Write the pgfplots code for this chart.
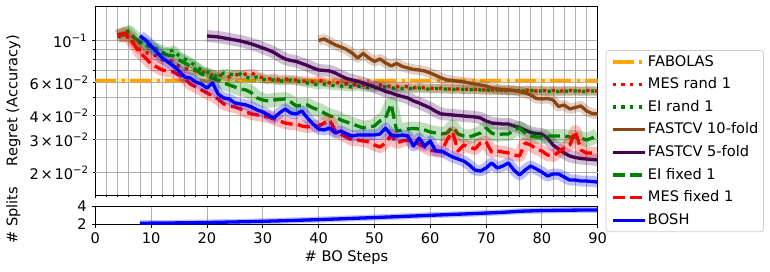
\documentclass[border=0pt]{standalone}
\usepackage{fontspec}
\setmainfont{DejaVu Sans}
\usepackage{pgfplots}
\pgfplotsset{compat=1.18}
\usepackage{pgfplotstable}

\definecolor{cOrange}{HTML}{FFA500}
\definecolor{cRed}{HTML}{FF0000}
\definecolor{cGreen}{HTML}{008000}
\definecolor{cBrown}{HTML}{8B4513}
\definecolor{cPurple}{HTML}{440154}
\definecolor{cBlue}{HTML}{0000FF}
\definecolor{gridgray}{HTML}{B0B0B0}
\definecolor{legframe}{HTML}{CCCCCC}

\newcommand{\fs}{\fontsize{14.6bp}{17.5bp}\selectfont}
\newcommand{\supr}[1]{\raisebox{0.42em}{\fontsize{10.2bp}{12bp}\selectfont #1}}
\newcommand{\sci}[2]{#1\kern0.12em×\kern0.12em10\supr{#2}}

\pgfplotstableread{
x y
0 0.0615
90 0.0615
}\fabolas

\pgfplotstableread{
x y
4 .10591
5 .10336
6 .10463
7 .09606
8 .08928
9 .08713
10 .08400
11 .08298
12 .07903
13 .07903
14 .07713
15 .07346
16 .07169
17 .06996
18 .06911
19 .06828
20 .06745
21 .06582
22 .06582
23 .06503
24 .06424
25 .06663
26 .06503
27 .06663
28 .06745
29 .06503
30 .06346
31 .06269
32 .06346
33 .06193
34 .06269
35 .06193
36 .06193
37 .06118
38 .06118
39 .06044
40 .06193
41 .06044
42 .05971
43 .06044
44 .05898
45 .05898
46 .05827
47 .05898
48 .05827
49 .05827
50 .05756
51 .05827
52 .05756
53 .05756
54 .05687
55 .05756
56 .05687
57 .05618
58 .05687
59 .05618
60 .05618
61 .05550
62 .05618
63 .05550
64 .05550
65 .05550
66 .05516
67 .05550
68 .05516
69 .05482
70 .05482
71 .05482
72 .05482
73 .05449
74 .05482
75 .05449
76 .05416
77 .05482
78 .05449
79 .05416
80 .05449
81 .05416
82 .05449
83 .05416
84 .05416
85 .05449
86 .05416
87 .05416
88 .05449
89 .05416
90 .05416
}\mesrand

\pgfplotstableread{
x y
4 .10721
5 .10986
6 .11257
7 .10336
8 .09724
9 .09489
10 .09261
11 .09038
12 .08607
13 .08713
14 .08928
15 .08298
16 .08000
17 .07713
18 .07346
19 .06996
20 .06828
21 .06663
22 .06424
23 .06745
24 .06663
25 .06582
26 .06663
27 .06424
28 .06269
29 .06424
30 .06269
31 .06193
32 .06193
33 .06118
34 .06118
35 .06193
36 .06118
37 .06044
38 .05971
39 .05898
40 .05827
41 .05898
42 .05827
43 .05756
44 .05756
45 .05721
46 .05687
47 .05756
48 .05687
49 .05652
50 .05618
51 .05687
52 .05687
53 .05618
54 .05618
55 .05584
56 .05618
57 .05550
58 .05618
59 .05550
60 .05550
61 .05584
62 .05550
63 .05550
64 .05516
65 .05550
66 .05516
67 .05482
68 .05550
69 .05482
70 .05482
71 .05449
72 .05482
73 .05449
74 .05416
75 .05449
76 .05416
77 .05416
78 .05449
79 .05416
80 .05416
81 .05383
82 .05416
83 .05383
84 .05416
85 .05383
86 .05416
87 .05383
88 .05383
89 .05416
90 .05383
}\eirand

\pgfplotstableread{
x y
40 .10025
41 .10211
42 .09843
43 .09489
44 .09261
45 .08983
46 .08607
47 .08098
48 .08555
49 .08098
50 .07760
51 .08000
52 .07619
53 .07346
54 .07573
55 .07301
56 .07169
57 .07039
58 .06996
59 .06911
60 .06745
61 .06542
62 .06346
63 .06193
64 .06155
65 .06081
66 .06044
67 .05971
68 .05898
69 .05827
70 .05756
71 .05618
72 .05550
73 .05516
74 .05482
75 .05449
76 .05383
77 .05286
78 .05158
79 .04943
80 .04913
81 .04943
82 .04853
83 .04483
84 .04566
85 .04349
86 .04429
87 .04511
88 .04244
89 .04117
90 .04092
}\fastten

\pgfplotstableread{
x y
20 .10591
21 .10527
22 .10463
23 .10336
24 .10211
25 .10086
26 .09964
27 .09783
28 .09606
29 .09374
30 .09148
31 .08928
32 .08660
33 .08298
34 .08000
35 .07855
36 .07760
37 .07573
38 .07391
39 .07169
40 .06996
41 .06953
42 .06911
43 .06745
44 .06503
45 .06307
46 .06193
47 .06081
48 .05971
49 .05827
50 .05687
51 .05550
52 .05383
53 .05286
54 .05158
55 .05065
56 .04973
57 .04794
58 .04679
59 .04538
60 .04402
61 .04218
62 .04092
63 .04067
64 .04042
65 .04017
66 .03993
67 .03969
68 .03945
69 .03897
70 .03756
71 .03666
72 .03643
73 .03621
74 .03621
75 .03534
76 .03470
77 .03366
78 .03265
79 .03225
80 .03206
81 .03053
82 .02803
83 .02670
84 .02543
85 .02451
86 .02407
87 .02377
88 .02363
89 .02349
90 .02335
}\fastfive

\pgfplotstableread{
x y
4 .10591
5 .10721
6 .11121
7 .10336
8 .09843
9 .09489
10 .09261
11 .08928
12 .08607
13 .08400
14 .08298
15 .07903
16 .07619
17 .07346
18 .06996
19 .06663
20 .06503
21 .06346
22 .06193
23 .05971
24 .05827
25 .05687
26 .05550
27 .05482
28 .05286
29 .04973
30 .04853
31 .04794
32 .04853
33 .04883
34 .04913
35 .04736
36 .04511
37 .04566
38 .04566
39 .04402
40 .04296
41 .04142
42 .03993
43 .03945
44 .03802
45 .03711
46 .03621
47 .03534
48 .03449
49 .03491
50 .03534
51 .03756
52 .03897
53 .04622
54 .03325
55 .03366
56 .03407
57 .03428
58 .03407
59 .03366
60 .03285
61 .03245
62 .03206
63 .03245
64 .03491
65 .03206
66 .03128
67 .03091
68 .03167
69 .03245
70 .03449
71 .03245
72 .03167
73 .03206
74 .03206
75 .03366
76 .03449
77 .03245
78 .03128
79 .03091
80 .03091
81 .03128
82 .03128
83 .03128
84 .03128
85 .03091
86 .03091
87 .03053
88 .02979
89 .03053
90 .03167
}\eifixed

\pgfplotstableread{
x y
4 .10591
5 .10986
6 .10463
7 .09489
8 .08607
9 .08098
10 .07527
11 .07257
12 .06996
13 .06911
14 .06828
15 .06582
16 .06346
17 .05898
18 .05687
19 .05482
20 .05286
21 .05096
22 .04913
23 .04622
24 .04511
25 .04456
26 .04349
27 .04193
28 .04092
29 .04042
30 .03993
31 .03945
32 .03850
33 .03756
34 .03666
35 .03621
36 .03621
37 .03534
38 .03491
39 .03534
40 .03534
41 .03666
42 .03802
43 .03325
44 .03206
45 .03091
46 .02979
47 .02979
48 .02943
49 .02908
50 .02803
51 .02736
52 .02872
53 .03167
54 .02872
55 .02943
56 .02979
57 .02908
58 .02838
59 .02736
60 .02637
61 .02605
62 .02574
63 .02979
64 .03285
65 .02605
66 .02803
67 .02736
68 .02670
69 .02872
70 .02908
71 .02574
72 .02605
73 .02574
74 .02543
75 .02481
76 .02451
77 .02872
78 .02803
79 .02670
80 .02605
81 .02481
82 .02451
83 .02574
84 .02703
85 .02803
86 .03325
87 .02637
88 .02543
89 .02543
90 .02543
}\mesfixed

\pgfplotstableread{
x y
8 .10591
9 .10086
10 .09374
11 .08713
12 .08098
13 .07713
14 .07346
15 .06911
16 .06424
17 .06346
18 .06044
19 .05898
20 .05618
21 .05971
22 .05222
23 .04973
24 .04913
25 .04679
26 .04622
27 .04566
28 .04456
29 .04296
30 .04193
31 .04042
32 .03897
33 .04142
34 .04349
35 .04142
36 .04092
37 .04244
38 .03897
39 .03621
40 .03407
41 .03366
42 .03449
43 .03245
44 .03325
45 .03206
46 .03128
47 .03167
48 .03167
49 .03167
50 .03167
51 .03206
52 .03449
53 .03167
54 .03128
55 .03167
56 .03128
57 .02769
58 .03053
59 .02769
60 .02943
61 .02605
62 .02605
63 .02512
64 .02422
65 .02363
66 .02306
67 .02197
68 .02067
69 .02042
70 .02118
71 .02251
72 .02118
73 .02170
74 .02251
75 .02067
76 .01945
77 .02067
78 .02170
79 .02092
80 .02017
81 .01921
82 .01968
83 .01968
84 .01898
85 .01829
86 .01829
87 .01807
88 .01807
89 .01796
90 .01785
}\bosh

\pgfplotstableread{
x y
8 2.12
10 2.13
15 2.16
20 2.20
25 2.26
30 2.33
35 2.42
40 2.52
45 2.63
50 2.75
55 2.87
60 3.00
65 3.12
70 3.25
73 3.33
76 3.45
80 3.53
85 3.57
90 3.60
}\splits

\pgfplotsset{
  ln/.style={line width=3.3bp, line cap=butt, line join=round},
  band/.style={line width=#1, line cap=butt, line join=round, draw opacity=0.25, forget plot},
  mdashed/.style={dash pattern=on 12.2bp off 5.3bp},
  mdotted/.style={dash pattern=on 3.3bp off 5.4bp},
  mdashdot/.style={dash pattern=on 21.1bp off 5.3bp on 3.3bp off 5.3bp},
  common/.style={
    scale only axis,
    width=502.4bp,
    xmin=0, xmax=90,
    tick align=outside, tick pos=left,
    major tick length=3.5bp, minor tick length=2bp,
    axis line style={line width=0.8bp},
    every tick/.style={black, line width=0.8bp},
    grid style={draw=gridgray, line width=0.8bp},
    minor grid style={draw=gridgray, line width=0.8bp},
    tick label style={font=\fs},
    label style={font=\fs},
    /pgf/number format/assume math mode=true,
    ylabel style={at={(axis description cs:-0.1629,0.5)}, anchor=center},
  },
}

\begin{document}
\fs
\begin{tikzpicture}
\useasboundingbox (0,0) rectangle (770bp,272bp);
\begin{axis}[
  common,
  at={(95.3bp,77bp)}, anchor=south west,
  height=188.7bp,
  ymode=log, ymin=0.01524, ymax=0.152,
  xtick={0,10,...,90}, xticklabels={}, minor x tick num=4,
  ytick={0.1}, yticklabels={10\supr{−1}},
  extra y ticks={0.02,0.03,0.04,0.06},
  extra y tick labels={\sci{2}{−2},\sci{3}{−2},\sci{4}{−2},\sci{6}{−2}},
  extra y tick style={grid=major, major tick length=2bp},
  minor ytick={0.05,0.07,0.08,0.09},
  grid=both,
  ylabel={Regret (Accuracy)},
  legend cell align=left,
  legend image code/.code={\draw[#1] (0bp,0bp) -- (32bp,0bp);},
  legend style={
    at={(1.01592,0.76842)}, anchor=north west,
    draw=legframe, line width=0.8bp, rounded corners=3bp,
    fill=white, fill opacity=0.8, text opacity=1, draw opacity=1,
    inner xsep=5bp, inner ysep=4.6bp,
    row sep=8.94bp, column sep=1.6bp,
    font=\fs,
    nodes={inner sep=0pt, text height=11bp, text depth=2.7bp},
  },
]
\addplot[band=5bp, cOrange] table[x=x,y=y] {\fabolas};
\addplot[ln, mdashdot, cOrange] table[x=x,y=y] {\fabolas};
\addlegendentry{FABOLAS}
\addplot[band=9bp, cRed] table[x=x,y=y] {\mesrand};
\addplot[ln, mdotted, cRed] table[x=x,y=y] {\mesrand};
\addlegendentry{MES rand 1}
\addplot[band=9bp, cGreen] table[x=x,y=y] {\eirand};
\addplot[ln, mdotted, cGreen] table[x=x,y=y] {\eirand};
\addlegendentry{EI rand 1}
\addplot[band=10bp, cBrown] table[x=x,y=y] {\fastten};
\addplot[ln, cBrown] table[x=x,y=y] {\fastten};
\addlegendentry{FASTCV 10-fold}
\addplot[band=12bp, cPurple] table[x=x,y=y] {\fastfive};
\addplot[ln, cPurple] table[x=x,y=y] {\fastfive};
\addlegendentry{FASTCV 5-fold}
\addplot[band=14bp, cGreen] table[x=x,y=y] {\eifixed};
\addplot[ln, mdashed, cGreen] table[x=x,y=y] {\eifixed};
\addlegendentry{EI fixed 1}
\addplot[band=12bp, cRed] table[x=x,y=y] {\mesfixed};
\addplot[ln, mdashed, cRed] table[x=x,y=y] {\mesfixed};
\addlegendentry{MES fixed 1}
\addplot[band=11bp, cBlue] table[x=x,y=y] {\bosh};
\addplot[ln, cBlue] table[x=x,y=y] {\bosh};
\addlegendentry{BOSH}
\end{axis}

\begin{axis}[
  common,
  at={(95.3bp,47.7bp)}, anchor=south west,
  height=18bp,
  ymin=2, ymax=4,
  xtick={0,10,...,90}, ytick={2,4},
  xmajorgrids,
  xlabel={\# BO Steps},
  xlabel style={at={(axis description cs:0.5,-1.844)}, anchor=center},
  ylabel={\# Splits},
  ylabel style={at={(axis description cs:-0.1629,0.5)}, anchor=center},
]
\addplot[band=6bp, cBlue] table[x=x,y=y] {\splits};
\addplot[ln, cBlue] table[x=x,y=y] {\splits};
\end{axis}
\end{tikzpicture}
\end{document}
